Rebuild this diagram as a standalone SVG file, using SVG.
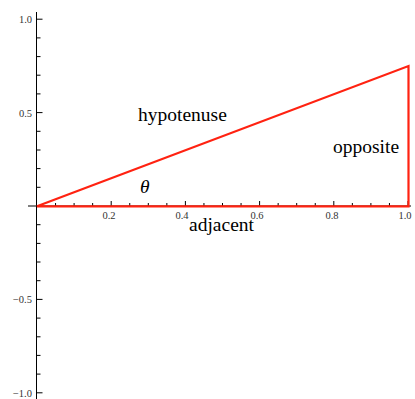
<svg xmlns="http://www.w3.org/2000/svg" width="415" height="399" viewBox="0 0 415 399">
<style>
.ax{stroke:#000;stroke-width:1;fill:none}
.tk{stroke:#000;stroke-width:1;fill:none}
.tl{font-family:"Liberation Serif","DejaVu Serif",serif;font-size:10.5px;fill:#333}
.lb{font-family:"Liberation Serif","DejaVu Serif",serif;font-size:19.5px;fill:#000}
.tri{stroke:#f21;stroke-width:2.2;fill:none;stroke-linejoin:miter}
</style>
<rect width="415" height="399" fill="#fff"/>
<g id="axes">
<line class="ax" x1="28" y1="206" x2="411" y2="206"/>
<line class="ax" x1="36.5" y1="12" x2="36.5" y2="399"/>
<path class="tk" d="M36.5 19.2h6M36.5 112.6h6M36.5 299.4h6M36.5 392.8h6
M36.5 37.9h4M36.5 56.6h4M36.5 75.2h4M36.5 93.9h4M36.5 131.3h4M36.5 150h4M36.5 168.6h4M36.5 187.3h4
M36.5 224.7h4M36.5 243.4h4M36.5 262h4M36.5 280.7h4M36.5 318.1h4M36.5 336.8h4M36.5 355.4h4M36.5 374.1h4"/>
<path class="tk" d="M111.2 206v-5M185.4 206v-5M259.6 206v-5M333.8 206v-5M408 206v-5
M55.55 206v-3M74.1 206v-3M92.65 206v-3M129.75 206v-3M148.3 206v-3M166.85 206v-3M203.95 206v-3M222.5 206v-3M241.05 206v-3M278.15 206v-3M296.7 206v-3M315.25 206v-3M352.35 206v-3M370.9 206v-3M389.45 206v-3"/>
<g class="tl" text-anchor="end">
<text x="32" y="23">1.0</text>
<text x="32" y="116.5">0.5</text>
<text x="32" y="303">−0.5</text>
<text x="32" y="396.5">−1.0</text>
</g>
<g class="tl" text-anchor="middle">
<text x="109" y="219">0.2</text>
<text x="182" y="219">0.4</text>
<text x="257" y="219">0.6</text>
<text x="332" y="219">0.8</text>
<text x="405" y="219">1.0</text>
</g>
</g>
<g id="connectors">
<path id="triangle" class="tri" d="M37 206.3L408.5 206.3L408.5 66L37 206.3Z"/>
</g>
<g id="hypotenuse"><text class="lb" x="138" y="121">hypotenuse</text></g>
<g id="opposite"><text class="lb" x="333" y="153">opposite</text></g>
<g id="adjacent"><text class="lb" x="189" y="231">adjacent</text></g>
<g id="theta"><text class="lb" x="140" y="193" font-style="italic" font-size="18">θ</text></g>
</svg>
